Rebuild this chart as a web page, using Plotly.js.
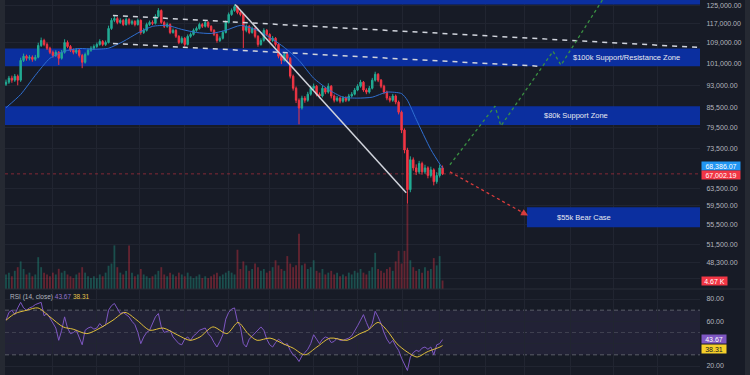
<!DOCTYPE html>
<html>
<head>
<meta charset="utf-8">
<script src="https://cdn.plot.ly/plotly-3.0.1.min.js"></script>
<style>html,body{margin:0;padding:0;background:#171b26;}#chart{width:750px;height:375px;}</style>
</head>
<body>
<div id="chart"></div>
<script>
// ---- price candles (USD thousands) ----
const priceOpen = [93.4,94.1,95.5,94.8,96.2,94.8,102.0,103.6,102.8,103.2, 102.4,103.2,107.8,109.8,108.2,106.7,105.1,103.9,105.1,102.8, 105.1,109.0,107.4,105.9,105.1,105.9,103.9,101.3,104.3,105.9, 106.7,107.4,108.2,109.4,108.2,109.0,114.8,118.3,119.1,117.4, 118.3,116.5,118.7,117.0,117.8,116.5,118.3,113.1,114.0,116.5, 117.4,117.0,120.0,122.7,117.4,115.7,116.5,113.1,114.0,111.5, 109.0,110.7,108.2,111.5,112.3,114.0,114.8,116.5,115.7,117.4, 115.7,114.0,112.3,109.8,110.7,113.1,117.4,120.9,122.7,124.5, 121.8,120.9,114.0,115.7,113.1,114.8,111.5,108.2,109.8,114.0, 112.3,109.8,110.7,108.2,103.6,102.0,104.3,102.8,96.2,92.0, 88.0,85.5,88.7,88.0,90.0,92.0,92.7,90.0,89.4,92.0, 90.7,92.7,89.4,88.0,88.7,87.7,88.7,88.0,89.4,90.0, 91.4,92.7,94.1,91.4,90.7,92.0,94.8,96.9,94.8,92.7, 90.7,88.7,88.0,89.4,87.4,84.2,78.8,73.2,63.2,70.6, 68.5,67.5,69.6,67.5,68.5,66.6,68.0,65.1,66.6,68.5];
const priceClose = [94.1,95.5,94.8,96.2,94.8,102.0,103.6,102.8,103.2,102.4, 103.2,107.8,109.8,108.2,106.7,105.1,103.9,105.1,102.8,105.1, 109.0,107.4,105.9,105.1,105.9,103.9,101.3,104.3,105.9,106.7, 107.4,108.2,109.4,108.2,109.0,114.8,118.3,119.1,117.4,118.3, 116.5,118.7,117.0,117.8,116.5,118.3,113.1,114.0,116.5,117.4, 117.0,120.0,122.7,117.4,115.7,116.5,113.1,114.0,111.5,109.0, 110.7,108.2,111.5,112.3,114.0,114.8,116.5,115.7,117.4,115.7, 114.0,112.3,109.8,110.7,113.1,117.4,120.9,122.7,124.5,121.8, 120.9,114.0,115.7,113.1,114.8,111.5,108.2,109.8,114.0,112.3, 109.8,110.7,108.2,103.6,102.0,104.3,102.8,96.2,92.0,88.0, 85.5,88.7,88.0,90.0,92.0,92.7,90.0,89.4,92.0,90.7, 92.7,89.4,88.0,88.7,87.7,88.7,88.0,89.4,90.0,91.4, 92.7,94.1,91.4,90.7,92.0,94.8,96.9,94.8,92.7,90.7, 88.7,88.0,89.4,87.4,84.2,78.8,73.2,63.2,70.6,68.5, 67.5,69.6,67.5,68.5,66.6,68.0,65.1,66.6,68.5,67.0];
const priceHigh = [95.0,96.3,96.4,97.0,96.8,103.0,104.6,104.2,104.0,103.9, 104.1,108.9,111.0,110.5,109.0,107.3,105.8,105.9,105.6,106.0, 110.3,109.8,108.0,106.6,106.7,106.4,104.5,105.0,106.6,107.5, 108.2,109.0,110.3,110.0,109.8,116.0,119.3,120.5,119.8,119.2, 118.9,119.6,119.3,118.6,118.4,119.1,118.7,114.9,117.3,118.2, 118.3,121.0,123.8,123.2,118.1,117.4,117.0,114.8,114.5,112.0, 111.5,111.2,112.3,113.1,114.8,115.6,117.3,117.1,118.2,117.9, 116.2,114.5,112.8,111.5,113.9,118.3,121.8,123.6,125.5,125.0, 122.6,121.4,116.5,116.3,115.6,115.3,112.0,110.7,114.9,114.6, 112.8,111.6,111.2,108.7,104.2,105.1,104.9,103.3,96.8,92.6, 88.6,89.5,89.4,90.8,92.9,93.6,93.1,90.6,92.8,92.5, 93.7,93.1,89.9,89.4,89.2,89.4,89.3,90.1,90.7,92.1, 93.4,94.9,94.5,92.0,92.8,95.6,97.8,97.3,95.2,93.2, 91.2,89.4,90.1,89.9,87.9,84.7,79.3,73.8,71.5,71.2, 69.4,70.3,70.1,69.3,68.9,68.8,68.4,67.4,69.3,69.1];
const priceLow = [92.8,93.5,93.9,94.2,93.0,94.2,101.4,101.9,102.0,101.5, 101.8,102.8,107.2,107.5,106.0,104.4,103.0,103.3,100.3,102.3, 104.6,106.8,105.2,104.3,104.5,103.1,99.1,100.8,103.8,105.3, 106.0,106.8,107.7,107.5,107.6,108.6,114.2,117.5,116.6,116.8, 115.8,116.0,116.2,116.3,115.7,116.0,112.2,112.5,113.5,115.9, 116.2,116.5,119.5,116.8,115.0,115.1,112.4,112.6,110.8,108.3, 108.5,107.3,107.8,110.9,111.8,113.4,114.3,115.0,115.2,115.0, 113.3,111.6,108.9,109.2,110.2,112.7,116.9,120.3,122.1,121.0, 120.1,106.8,113.2,112.4,112.6,110.7,107.3,107.7,109.3,111.6, 109.0,109.2,107.4,102.8,100.6,101.5,102.0,95.4,91.2,87.1, 80.5,85.0,87.2,87.5,89.5,91.3,89.3,88.6,88.9,90.0, 90.2,88.6,87.3,87.5,87.0,87.2,87.4,87.6,88.9,89.6, 91.0,92.2,90.8,90.0,90.2,91.6,94.3,94.1,92.0,90.0, 88.0,87.3,87.5,86.7,83.5,77.9,72.3,60.0,62.6,67.8, 66.7,67.0,66.8,67.0,65.9,66.1,64.2,64.6,66.1,66.7];
// ---- volume (K) ----
const volume = [8,9,7,10,12,15.2,11,8,9,7, 8,17.5,12,9,8,7,9,8,11.1,9, 10,8,7,6,8,9,12,9,7,6, 7,6,8,7,9,12.8,14,24,12,9, 8,10,24,9,7,8,11,8,7,6, 7,8,10,12,8,7,9,8,7,9, 8,7,9,7,6,7,8,6,7,6, 7,8,9,7,8,9,10,9,8,21.6, 11,15.2,13,10,11,14,12,10,11,9, 10,12,15.8,13,11,10,18.1,14,12,13, 30.4,13,14,11,12,15.8,10,9,11,8, 9,10,8,9,7,8,7,9,8,10, 9,11,9,8,10,12,19.9,11,10,9, 11,12,10,15.2,21,14,21,46.7,15.8,12, 10,11,9,12,10,11,17,13,18.1,4.67];
// ---- RSI(14) and its MA ----
const rsi = [61,68,70,66,72,77,72,70,72,73, 75,76,77,65,67,63,58,54,43,52, 64,54,49,50,52,46,39,52,54,55, 53,54,58,55,57,70,74,76,71,67, 68,66,64,60,57,50,40,46,50,52, 58,64,67,55,50,51,52,46,43,40, 39,44,46,43,47,49,52,53,54,49, 46,41,37,42,48,62,68,71,72,60, 55,40,37,44,47,49,53,55,52,44, 39,37,41,44,42,39,40,34,30,28, 24,29,32,35,40,48,44,40,44,46, 45,41,42,45,43,43,44,45,47,51, 56,61,66,59,53,58,69,64,58,50, 44,40,43,38,34,27,21,16,28,32, 34,33,36,37,35,37,30,39,40,43.67];
const rsiMaX = [0,3.1,7.2,10.9,15,19.5,22.9,27.6,32.1,36.5,40.6,44.7,49.1,53.6,58.4,62.8,66.2,70.6,75.4,79.2,82.6,85.7,90.1,94.5,98,102,106.1,110.6,116.4,120.8,123.5,127,130,133.4,136.9,140.3,143.7,148.1,149];
const rsiMa = [61,67,70,72,64,55,53,49,54,61,68,61,52,54,48,43,46,55,49,59,49,43,45,40,36,30,37,45,43,49,52,59,52,40,32.6,28,32.6,37,38.31];
// ---- price moving average (sampled) ----
const maX = [0,5,10,15,20,25,30,35,40,45,50,55,60,65,70,75,80,85,90,95,100,105,110,115,120,125,130,135,137,140,145,149];
const maValue = [85.6,89.9,96.5,102.8,105.5,106.6,106.3,106.7,109.4,112.9,115.7,116.1,114.4,113.1,112.7,114.0,116.1,114.4,111.1,107.0,102.0,95.5,91.6,89.0,88.7,89.0,90.7,90.2,88.0,82.0,73.3,68.386];
// ---- analyst drawings (candle index, USD thousands) ----
const channelTopX = [36.5, 236.86], channelTopP = [120.5, 107.0];
const channelBotX = [36.5, 182.3], channelBotP = [108.6, 99.8];
const trendX = [78.2, 136.6], trendP = [125.5, 62.5];
const bullPathX = [151.5, 166.9, 168.9, 186.7, 189.4, 205.6];
const bullPathP = [69.3, 86.1, 80.0, 105.5, 100.2, 132.1];
const bearPathX = [151.5, 178.2];
const bearPathP = [67.5, 57.4];
const zoneLabels = ['', '$100k Support/Resistance Zone', '$80k Support Zone', '$55k Bear Case'];
const zoneLow  = [125.5, 99.8, 80.3, 55.0];
const zoneHigh = [127.6, 106.6, 86.1, 59.2];
const zoneStart = [35.5, -0.34, -0.34, 177.8];
const zoneLabelX = [null, 211.9, 194.5, 197.4];
// ---- axis ticks (labels hidden under the value tags are left blank) ----
const priceTickVals = [125,117,109,101,93,85.5,79.5,73.5,63.5,59.5,55.5,51.5,48.3,45.5];
const priceTickText = ['125,000.00','117,000.00','109,000.00','101,000.00','93,000.00','85,500.00','79,500.00','73,500.00','63,500.00','59,500.00','55,500.00','51,500.00','48,300.00',''];
const rsiTickVals = [20,40,60,80];
const rsiTickText = ['20.00','','60.00','80.00'];
const monthGridX = [16,31,45.7,61,75.8,90,104.8,119.8,135.2,148.1,163.5,177.1,192.5,207.2,222.2];
// ---- last values ----
const lastClose = 67.00219, lastCloseText = '67,002.19';
const lastMa = 68.38607, lastMaText = '68,386.07';
const lastVol = 4.67, lastVolText = '4.67 K';
const lastRsi = 43.67, lastRsiMa = 38.31;

const L = Math.log10;
const xr = [-0.34, 236.86];
const xIdx = priceClose.map((_, i) => i);
const up = '#22ab94', dn = '#f23645';
const volColors = priceClose.map((c, i) => c >= priceOpen[i] ? 'rgba(34,171,148,0.36)' : 'rgba(242,54,69,0.36)');
const grid = '#212531';
const fam = 'Liberation Sans, Arial, sans-serif';

const data = [
  {type:'candlestick', x:xIdx, open:priceOpen, high:priceHigh, low:priceLow, close:priceClose,
   xaxis:'x', yaxis:'y', hoverinfo:'skip', showlegend:false,
   increasing:{line:{color:up, width:1}, fillcolor:up},
   decreasing:{line:{color:dn, width:1}, fillcolor:dn}},
  {type:'scatter', mode:'lines', x:maX, y:maValue, xaxis:'x', yaxis:'y',
   line:{color:'#2f6fd1', width:1, shape:'spline', smoothing:0.6}, hoverinfo:'skip', showlegend:false},
  {type:'scatter', mode:'lines', x:channelTopX, y:channelTopP, xaxis:'x', yaxis:'y',
   line:{color:'#d1d4dc', width:1.5, dash:'5px,5px'}, hoverinfo:'skip', showlegend:false},
  {type:'scatter', mode:'lines', x:channelBotX, y:channelBotP, xaxis:'x', yaxis:'y',
   line:{color:'#d1d4dc', width:1.5, dash:'5px,5px'}, hoverinfo:'skip', showlegend:false},
  {type:'scatter', mode:'lines', x:trendX, y:trendP, xaxis:'x', yaxis:'y',
   line:{color:'#d1d4dc', width:1.5}, hoverinfo:'skip', showlegend:false},
  {type:'scatter', mode:'lines', x:bullPathX, y:bullPathP, xaxis:'x', yaxis:'y',
   line:{color:'#3a9042', width:1.3, dash:'dot'}, hoverinfo:'skip', showlegend:false},
  {type:'scatter', mode:'lines', x:bearPathX, y:bearPathP, xaxis:'x', yaxis:'y',
   line:{color:'#d83c3c', width:1.3, dash:'dot'}, hoverinfo:'skip', showlegend:false},
  {type:'bar', x:xIdx, y:volume, xaxis:'x', yaxis:'y3', width:0.62,
   marker:{color:volColors, line:{width:0}}, hoverinfo:'skip', showlegend:false},
  {type:'scatter', mode:'lines', x:xIdx, y:rsi, xaxis:'x2', yaxis:'y2',
   line:{color:'#7e57c2', width:1}, hoverinfo:'skip', showlegend:false},
  {type:'scatter', mode:'lines', x:rsiMaX, y:rsiMa, xaxis:'x2', yaxis:'y2',
   line:{color:'#e0bf3a', width:1, shape:'spline', smoothing:0.8}, hoverinfo:'skip', showlegend:false}
];

const shapes = [];
zoneLow.forEach((lo, k) => {
  shapes.push({type:'rect', xref:'x', yref:'y', x0:zoneStart[k], x1:xr[1], y0:lo, y1:zoneHigh[k],
    fillcolor:'#0b2f9f', line:{width:0}, layer:'between'});
});
shapes.push({type:'line', xref:'x', yref:'y', x0:xr[0], x1:xr[1], y0:lastClose, y1:lastClose,
  line:{color:'rgba(242,54,69,0.5)', width:1, dash:'dot'}, layer:'between'});
// RSI band and levels
const dx0 = 5/750, dx1 = 700/750;
shapes.push({type:'rect', xref:'paper', yref:'y2', x0:dx0, x1:dx1, y0:30, y1:70,
  fillcolor:'rgba(126,87,194,0.11)', line:{width:0}, layer:'between'});
[70, 30].forEach(v => shapes.push({type:'line', xref:'paper', yref:'y2', x0:dx0, x1:dx1, y0:v, y1:v,
  line:{color:'#6b6e78', width:0.8, dash:'4px,3px'}, layer:'between'}));
shapes.push({type:'line', xref:'paper', yref:'y2', x0:dx0, x1:dx1, y0:50, y1:50,
  line:{color:'rgba(107,110,120,0.5)', width:0.8, dash:'4px,3px'}, layer:'between'});
// pane separator and edge strips
shapes.push({type:'line', xref:'paper', yref:'paper', x0:0, x1:745/750, y0:1-289/375, y1:1-289/375,
  line:{color:'#2a2e39', width:1}, layer:'above'});
shapes.push({type:'rect', xref:'paper', yref:'paper', x0:0, x1:5/750, y0:0, y1:1,
  fillcolor:'#252932', line:{width:0}, layer:'above'});
shapes.push({type:'rect', xref:'paper', yref:'paper', x0:745/750, x1:1, y0:0, y1:1,
  fillcolor:'#252932', line:{width:0}, layer:'above'});

const annotations = [];
zoneLabels.forEach((t, k) => {
  if (!t) return;
  annotations.push({xref:'x', yref:'y', x:zoneLabelX[k], y:L(Math.sqrt(zoneLow[k]*zoneHigh[k])),
    text:t, showarrow:false, font:{family:fam, size:7.5, color:'#e8eaf0'}});
});
annotations.push({xref:'x', yref:'y', x:bearPathX[1], y:L(bearPathP[1]), ax:-8, ay:-4.4,
  text:'', showarrow:true, arrowhead:2, arrowsize:1, arrowwidth:1.4, arrowcolor:'#d83c3c'});
const lab = (yref, y, text, bg, fg, w, ys) => ({xref:'paper', yref:yref, x:701/750, y:y, xanchor:'left', yanchor:'middle',
  text:text, showarrow:false, bgcolor:bg, width:w, height:8, borderpad:0, align:'center', yshift:ys,
  font:{family:fam, size:7, color:fg}});
annotations.push(lab('y', L(lastMa), lastMaText, '#2196f3', '#ffffff', 38, 2.2));
annotations.push(lab('y', L(lastClose), lastCloseText, '#f23645', '#ffffff', 38, -0.7));
annotations.push(lab('y3', lastVol, lastVolText, '#f23645', '#ffffff', 25, 0));
annotations.push(lab('y2', lastRsi, lastRsi.toFixed(2), '#7e57c2', '#ffffff', 24, 0.6));
annotations.push(lab('y2', lastRsiMa, lastRsiMa.toFixed(2), '#f5cf2a', '#131722', 24, -3.8));
annotations.push({xref:'paper', yref:'paper', x:8/750, y:1-297/375, xanchor:'left', yanchor:'middle', showarrow:false,
  text:'RSI (14, close) <span style="color:#9575cd">' + lastRsi.toFixed(2) + '</span> <span style="color:#e6c34a">' + lastRsiMa.toFixed(2) + '</span>',
  font:{family:fam, size:6.5, color:'#b2b5be'}});

const layout = {
  width:750, height:375, margin:{l:0, r:0, t:0, b:0},
  paper_bgcolor:'#171b26', plot_bgcolor:'#171b26',
  font:{family:fam, color:'#b2b5be'}, showlegend:false, dragmode:false,
  xaxis:{domain:[dx0, dx1], range:xr, anchor:'y', tickmode:'array', tickvals:monthGridX,
    showticklabels:false, ticks:'', showgrid:true, gridcolor:grid, zeroline:false, showline:false,
    rangeslider:{visible:false}, fixedrange:true},
  xaxis2:{domain:[dx0, dx1], range:xr, anchor:'y2', matches:'x', tickmode:'array', tickvals:monthGridX,
    showticklabels:false, ticks:'', showgrid:true, gridcolor:grid, zeroline:false, showline:false, fixedrange:true},
  yaxis:{domain:[1-289/375, 1], anchor:'x', type:'log', side:'right', range:[L(43.74), L(127.57)],
    tickmode:'array', tickvals:priceTickVals, ticktext:priceTickText,
    tickfont:{family:fam, size:7, color:'#b2b5be'}, ticks:'outside', ticklen:4, tickcolor:'rgba(0,0,0,0)',
    showgrid:true, gridcolor:grid, zeroline:false, showline:false, fixedrange:true},
  yaxis3:{overlaying:'y', anchor:'x', side:'right', range:[0, 159], visible:false, fixedrange:true},
  yaxis2:{domain:[0, 85/375], anchor:'x2', side:'right', range:[11.94, 88.06],
    tickmode:'array', tickvals:rsiTickVals, ticktext:rsiTickText,
    tickfont:{family:fam, size:7, color:'#b2b5be'}, ticks:'outside', ticklen:4, tickcolor:'rgba(0,0,0,0)',
    showgrid:true, gridcolor:grid, zeroline:false, showline:false, fixedrange:true},
  shapes:shapes, annotations:annotations
};

Plotly.newPlot('chart', data, layout, {staticPlot:true, displayModeBar:false});
</script>
</body>
</html>
